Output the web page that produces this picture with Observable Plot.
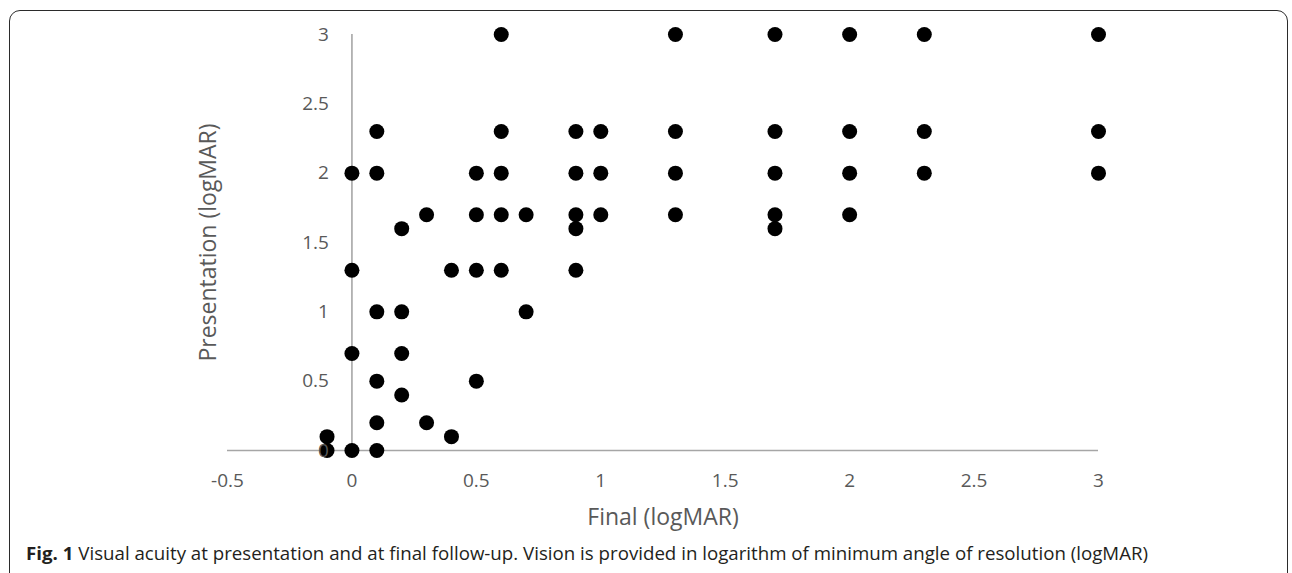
<!DOCTYPE html>
<html>
<head>
<meta charset="utf-8">
<script src="https://cdn.jsdelivr.net/npm/d3@7"></script>
<script src="https://cdn.jsdelivr.net/npm/@observablehq/plot@0.6"></script>
<style>
  html, body { margin: 0; padding: 0; background: #fff; overflow: hidden; }
  #fig { position: relative; width: 1292px; height: 573px; overflow: hidden; }
  #frame { position: absolute; left: 9px; top: 10px; width: 1279px; height: 620px;
           border: 1.5px solid #2b2b2b; border-radius: 11px; box-sizing: border-box; }
  #chart { position: absolute; left: 0; top: 0; }
  #caption { position: absolute; left: 26px; top: 542px; white-space: nowrap;
             font-family: "Open Sans", sans-serif; font-size: 18px; line-height: 22px;
             color: #231f20; transform-origin: left center; }
  #caption b { font-weight: 700; }
</style>
</head>
<body>
<div id="fig">
  <div id="frame"></div>
  <div id="chart"></div>
  <div id="caption"><span id="capspan"><b>Fig. 1</b> Visual acuity at presentation and at final follow-up. Vision is provided in logarithm of minimum angle of resolution (logMAR)</span></div>
</div>
<script>
// Final visual acuity (logMAR), one entry per eye
const finalVA = [
  -0.1, -0.1,
  0, 0, 0, 0,
  0.1, 0.1, 0.1, 0.1, 0.1, 0.1,
  0.2, 0.2, 0.2, 0.2,
  0.3, 0.3,
  0.4, 0.4,
  0.5, 0.5, 0.5, 0.5,
  0.6, 0.6, 0.6, 0.6, 0.6,
  0.7, 0.7,
  0.9, 0.9, 0.9, 0.9, 0.9,
  1.0, 1.0, 1.0,
  1.3, 1.3, 1.3, 1.3,
  1.7, 1.7, 1.7, 1.7, 1.7,
  2.0, 2.0, 2.0, 2.0,
  2.3, 2.3, 2.3,
  3, 3, 3
];
// Presentation visual acuity (logMAR), paired with finalVA
const presentationVA = [
  0, 0.1,
  0, 0.7, 1.3, 2,
  0, 0.2, 0.5, 1, 2, 2.3,
  0.4, 0.7, 1, 1.6,
  0.2, 1.7,
  0.1, 1.3,
  0.5, 1.3, 1.7, 2,
  1.3, 1.7, 2, 2.3, 3,
  1, 1.7,
  1.3, 1.6, 1.7, 2, 2.3,
  1.7, 2, 2.3,
  1.7, 2, 2.3, 3,
  1.6, 1.7, 2, 2.3, 3,
  1.7, 2, 2.3, 3,
  2, 2.3, 3,
  2, 2.3, 3
];
const xTicks = [-0.5, 0, 0.5, 1, 1.5, 2, 2.5, 3];
const yTicks = [0, 0.5, 1, 1.5, 2, 2.5, 3];
const xTitle = "Final (logMAR)";
const yTitle = "Presentation (logMAR)";

const points = finalVA.map((f, i) => ({final: f, presentation: presentationVA[i]}));
const axisColor = "#a6a6a6";
const labelColor = "#595959";

const chart = Plot.plot({
  width: 1292,
  height: 535,
  marginLeft: 227,
  marginRight: 194,
  marginTop: 34,
  marginBottom: 85,
  style: {fontFamily: "'Open Sans', sans-serif", background: "transparent", overflow: "visible"},
  x: {domain: [-0.5, 3], axis: null},
  y: {domain: [0, 3], axis: null},
  marks: [
    Plot.ruleY([0], {x1: -0.5, x2: 3, stroke: axisColor, strokeWidth: 1.6}),
    Plot.ruleX([0], {y1: 0, y2: 3, stroke: axisColor, strokeWidth: 1.6}),
    Plot.dot(points, {x: "final", y: "presentation", r: 7.5, fill: "#000", stroke: "none"}),
    Plot.text(yTicks, {x: 0, y: d => d, text: d => String(d), dx: -23, textAnchor: "end",
                       fontSize: 19, fill: labelColor}),
    Plot.text(xTicks, {x: d => d, y: 0, text: d => String(d), dy: 30,
                       fontSize: 19, fill: labelColor}),
    Plot.text([xTitle], {frameAnchor: "bottom", lineAnchor: "middle", dy: 67,
                         fontSize: 23, fill: labelColor}),
    Plot.text([yTitle], {frameAnchor: "left", textAnchor: "middle", lineAnchor: "middle",
                         dx: -19, rotate: -90, fontSize: 23, fill: labelColor})
  ]
});
document.getElementById("chart").appendChild(chart);

// condense caption to the reference's line length
const cap = document.getElementById("caption");
const w = document.getElementById("capspan").getBoundingClientRect().width;
if (w > 0) cap.style.transform = `scaleX(${(1122 / w).toFixed(4)})`;
</script>
</body>
</html>
